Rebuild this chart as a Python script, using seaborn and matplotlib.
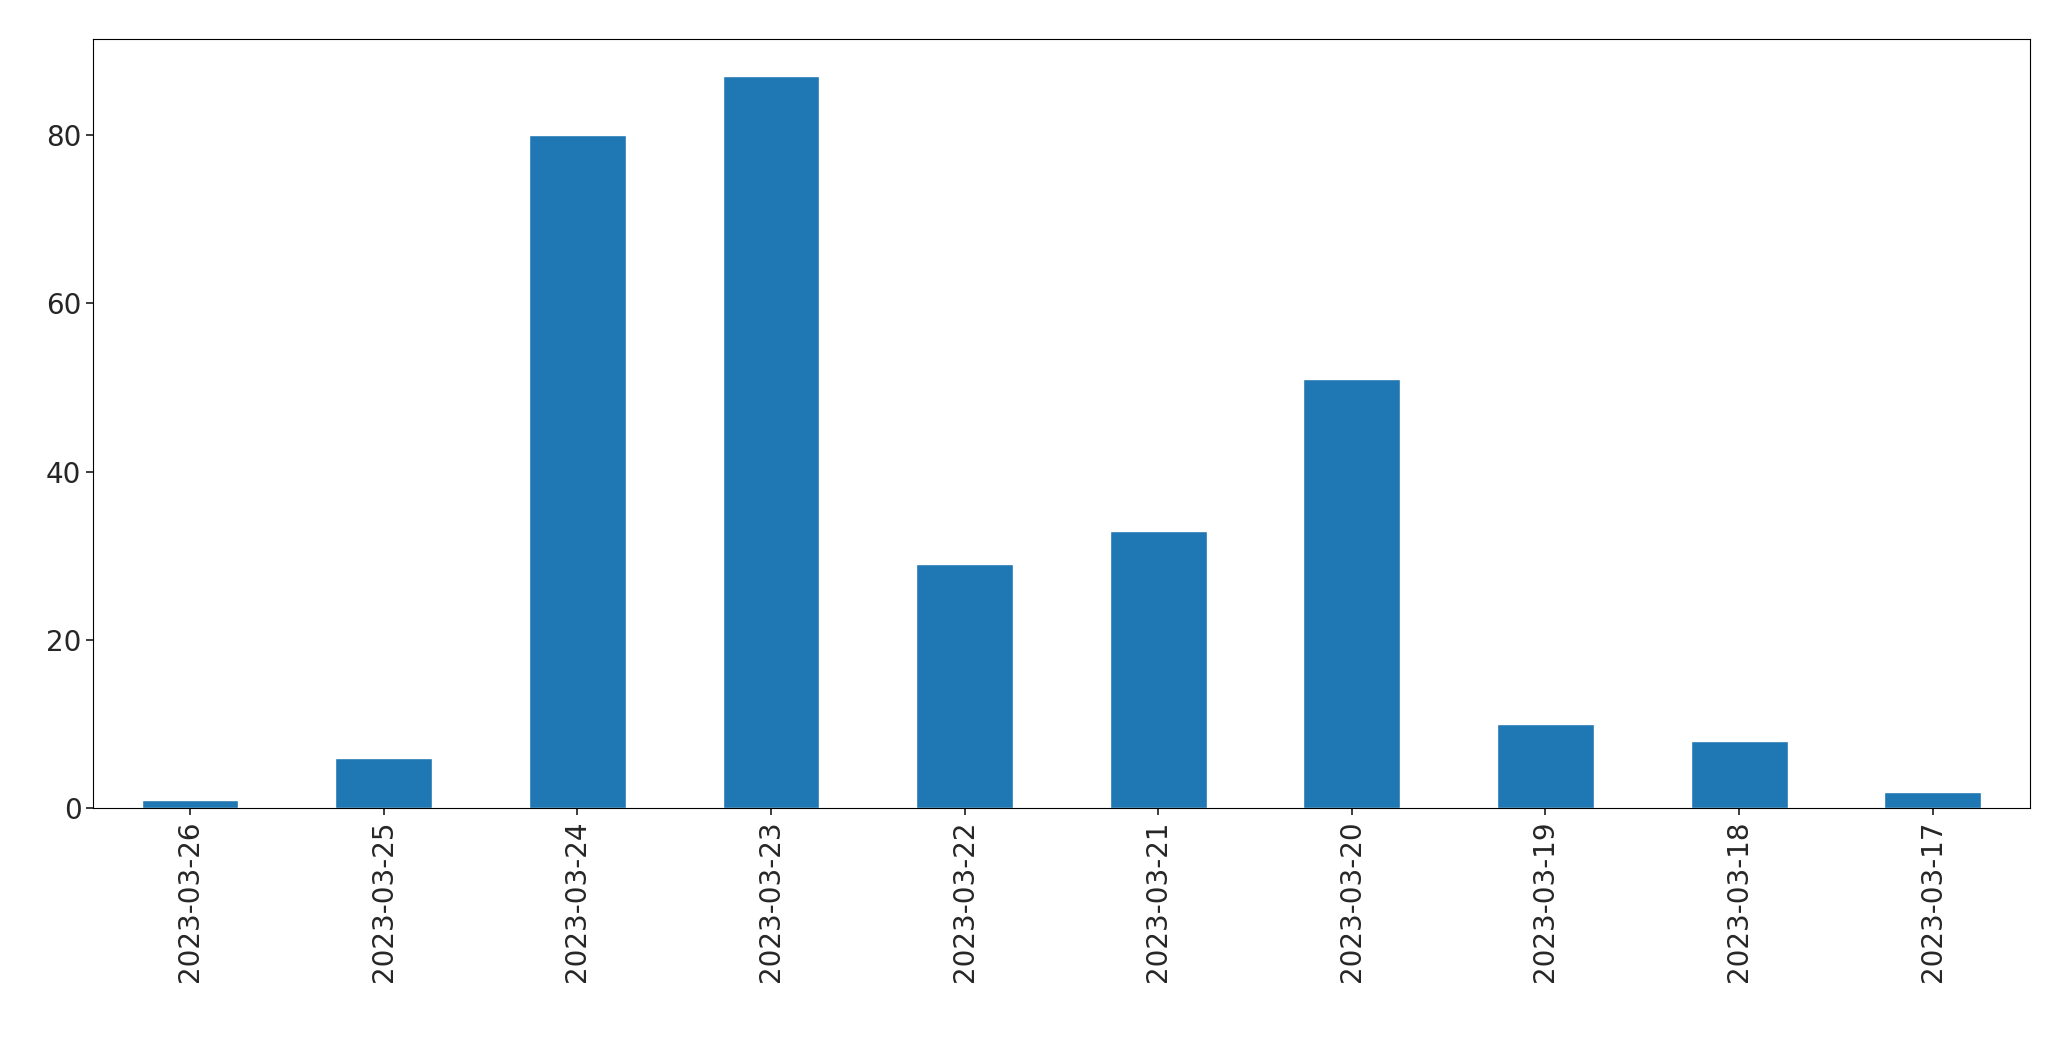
import seaborn as sns
import matplotlib.pyplot as plt
import pandas as pd

dates = ["2023-03-26", "2023-03-25", "2023-03-24", "2023-03-23", "2023-03-22",
         "2023-03-21", "2023-03-20", "2023-03-19", "2023-03-18", "2023-03-17"]
counts = [1, 6, 80, 87, 29, 33, 51, 10, 8, 2]

df = pd.DataFrame({"date": dates, "count": counts})

sns.set_theme(style="ticks")
plt.rcParams["font.family"] = ["DejaVu Sans"]

fig = plt.figure(figsize=(20.71, 10.61), dpi=100)
ax = fig.add_axes([0.045, 0.238, 0.935, 0.725])
sns.barplot(data=df, x="date", y="count", color="#1f77b4", saturation=1,
            width=0.5, ax=ax)
ax.set_xlim(-0.5, len(dates) - 0.5)
ax.set_ylim(0, 91.35)
ax.set_xlabel("")
ax.set_ylabel("")
ax.tick_params(axis="both", labelsize=20, length=5)
ax.tick_params(axis="x", rotation=90)
for s in ax.spines.values():
    s.set_color("black")
    s.set_linewidth(0.8)

fig.savefig("out.png", dpi=100)
